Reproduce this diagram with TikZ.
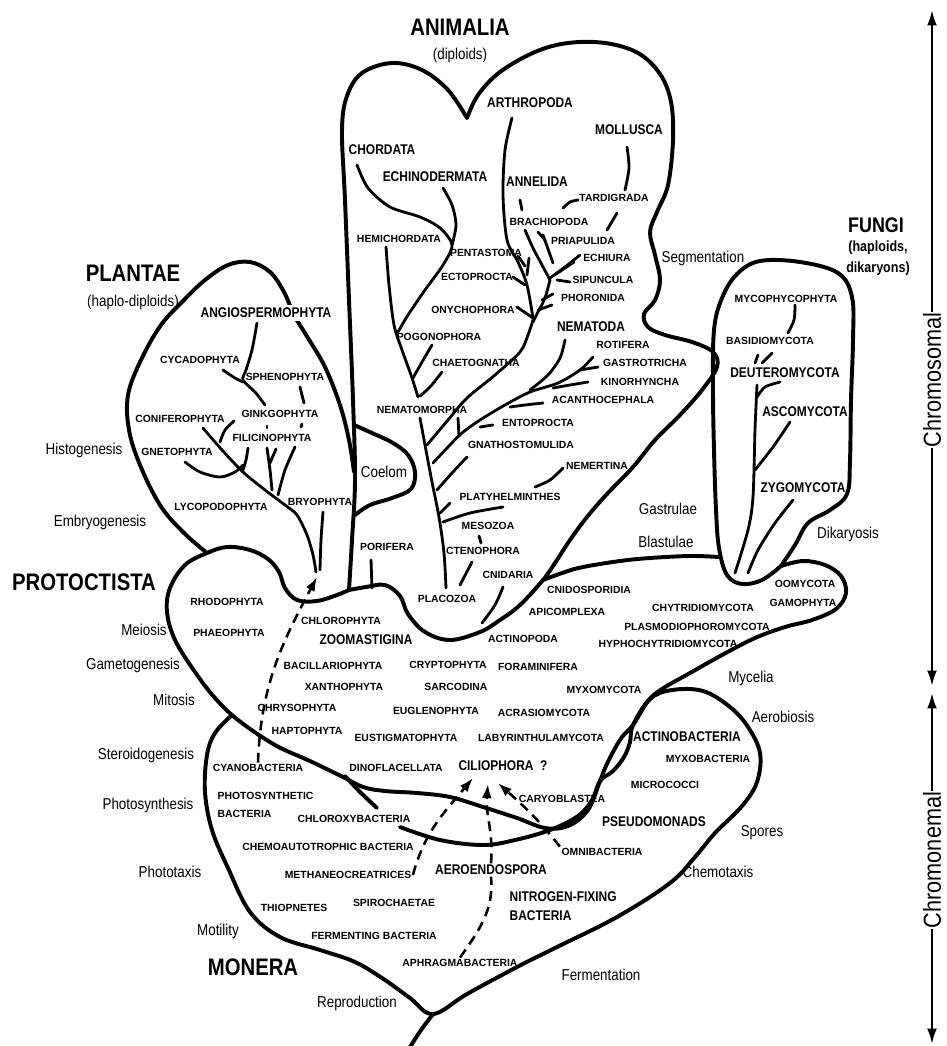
\documentclass[tikz,border=0pt]{standalone}
\usepackage{fontspec}
\setmainfont{Liberation Sans}
\newfontfamily\narrowf[FakeStretch=0.85]{Liberation Sans}
\newfontfamily\axisf[FakeStretch=0.88]{Liberation Sans}
\usetikzlibrary{arrows.meta}

\begin{document}
\begin{tikzpicture}[x=0.025cm, y=-0.025cm,
        taxon/.style={font=\fontsize{7.4}{12.8}\selectfont\bfseries, inner sep=1pt},
        phylum/.style={font=\narrowf\fontsize{10}{13.5}\selectfont\bfseries, inner sep=1pt},
        kingdom/.style={font=\narrowf\fontsize{17}{18}\selectfont\bfseries, inner sep=1pt},
        trait/.style={font=\narrowf\fontsize{11.2}{12}\selectfont, inner sep=1pt},
        axislabel/.style={font=\axisf\fontsize{17.5}{19}\selectfont, rotate=90, inner sep=0.3pt},
        rim/.style={line width=2.8pt, line cap=round, line join=round},
        twig/.style={line width=2pt, line cap=round},
        descent/.style={line width=1.8pt, dash pattern=on 7pt off 4.5pt},
        lineage/.style={descent, -{Latex[length=10pt, width=7pt]}},
        scale axis/.style={line width=1.6pt, -{Latex[length=11pt, width=7pt]}}]
        % Five kingdoms and their phyla
        \useasboundingbox (0,0) rectangle (947,1046);

        % outlines
        \draw[rim] plot[smooth, tension=0.6] coordinates {(349,590) (352,540) (355,480) (353,400) (349,300) (345,200) (342,130) (347,96) (362,73) (392,63) (422,70) (448,90) (467,118)};
        \draw[rim] plot[smooth, tension=0.6] coordinates {(467,118) (478,95) (500,72) (535,52) (568,43) (605,43) (638,53) (660,74) (671,102) (673,140) (668,185) (657,212) (650,232) (655,255) (660,280) (655,300) (644,314) (648,327) (665,335) (692,342) (713,352) (717,367) (702,390) (680,415) (655,440) (633,467) (607,494) (587,517) (570,540) (555,563) (543,580) (520,605) (500,620) (480,632) (450,640) (425,632) (408,614) (400,596) (385,585) (366,587) (349,590)};
        \draw[rim] plot[smooth, tension=0.6] coordinates {(354,425) (372,433) (393,443) (408,455) (415,472) (411,489) (392,498) (370,505) (355,515)};
        \draw[rim] plot[smooth, tension=0.6] coordinates {(354,472) (349,440) (340,405) (325,367) (308,338) (294,315) (284,292) (270,272) (250,262) (228,265) (205,280) (184,300) (161,325) (141,360) (128,395) (129,430) (140,465) (160,505) (183,532) (207,553)};
        \draw[rim] plot[smooth, tension=0.6] coordinates {(349,590) (337,595) (317,601) (297,600) (285,588) (279,572) (268,559) (250,550) (227,547) (207,553) (185,565) (170,588) (167,612) (175,640) (195,672) (215,698) (238,720) (275,745) (310,761) (343,777) (363,787) (385,791) (417,793) (450,797) (483,807) (517,818) (545,828) (568,826) (588,810) (600,781) (606,766) (613,752) (622,737) (633,725) (648,701) (662,689) (690,673) (722,655) (755,638) (785,627) (812,620) (836,609) (846,593) (841,576) (825,565) (803,561) (781,566)};
        \draw[rim] plot[smooth, tension=0.6] coordinates {(543,580) (565,572) (583,567) (620,561) (650,558) (690,556) (719,557)};
        \draw[rim] plot[smooth, tension=0.6] coordinates {(781,566) (795,545) (808,523) (830,510) (847,494) (850,460) (851,400) (853,340) (852,297) (838,273) (800,262) (760,261) (737,274) (722,298) (714,330) (713,390) (714,450) (716,510) (719,548) (727,575) (742,584) (762,580) (781,566)};
        \draw[rim] plot[smooth, tension=0.6] coordinates {(232,715) (215,733) (207,755) (205,792) (212,830) (228,868) (250,912) (280,937) (320,950) (355,962) (385,980) (410,998) (433,1014) (467,994) (517,967) (555,948) (617,917) (670,883) (695,857) (715,833) (742,806) (757,782) (760,753) (748,727) (730,707) (703,691) (672,690) (650,699) (633,725) (630,742) (624,757) (613,771) (600,781) (592,800) (578,816) (550,830) (515,840) (483,845) (440,840) (400,827)};
        \draw[rim] plot[smooth] coordinates {(433,1014) (421,1030) (410,1047)};
        \draw[rim] plot[smooth] coordinates {(345,776) (360,792) (377,808)};

        \node[kingdom] (animalia) at (460,27) {ANIMALIA};
        \node[trait] (diploids) at (460,55) {(diploids)};
        \node[kingdom] (plantae) at (133,273) {PLANTAE};
        \node[trait] (haplodiploids) at (133,302) {(haplo-diploids)};
        \node[kingdom, font=\narrowf\fontsize{15}{16}\selectfont\bfseries] (fungi) at (876,225) {FUNGI};
        \node[trait, align=center, font=\narrowf\fontsize{10.5}{14.9}\selectfont\bfseries] (haploids) at (878,258) {(haploids,\\dikaryons)};
        \node[kingdom] (protoctista) at (84,582) {PROTOCTISTA};
        \node[kingdom] (monera) at (253,967) {MONERA};

        \node[trait] (histogenesis) at (84,450) {Histogenesis};
        \node[trait] (embryogenesis) at (100,522) {Embryogenesis};
        \node[trait] (meiosis) at (144,630) {Meiosis};
        \node[trait] (gametogenesis) at (133,665) {Gametogenesis};
        \node[trait] (mitosis) at (174,700) {Mitosis};
        \node[trait] (steroidogenesis) at (146,755) {Steroidogenesis};
        \node[trait] (photosynthesis) at (148,805) {Photosynthesis};
        \node[trait] (phototaxis) at (170,872) {Phototaxis};
        \node[trait] (motility) at (218,931) {Motility};
        \node[trait] (reproduction) at (357,1003) {Reproduction};
        \node[trait] (fermentation) at (601,975) {Fermentation};
        \node[trait] (chemotaxis) at (718,872) {Chemotaxis};
        \node[trait] (spores) at (762,833) {Spores};
        \node[trait] (aerobiosis) at (783,717) {Aerobiosis};
        \node[trait] (mycelia) at (751,678) {Mycelia};
        \node[trait] (dikaryosis) at (848,534) {Dikaryosis};
        \node[trait] (gastrulae) at (668,509) {Gastrulae};
        \node[trait] (blastulae) at (666,542) {Blastulae};
        \node[trait] (segmentation) at (703,258) {Segmentation};
        \node[trait] (coelom) at (384,472) {Coelom};

        \node[phylum] (arthropoda) at (530,103) {ARTHROPODA};
        \node[phylum] (mollusca) at (629,130) {MOLLUSCA};
        \node[phylum] (chordata) at (382,150) {CHORDATA};
        \node[phylum] (echinodermata) at (435,177) {ECHINODERMATA};
        \node[phylum] (annelida) at (537,182) {ANNELIDA};
        \node[phylum] (nematoda) at (591,327) {NEMATODA};
        \node[taxon] (tardigrada) at (614,198) {TARDIGRADA};
        \node[taxon] (brachiopoda) at (549,222) {BRACHIOPODA};
        \node[taxon] (priapulida) at (583,241) {PRIAPULIDA};
        \node[taxon] (hemichordata) at (399,239) {HEMICHORDATA};
        \node[taxon] (pentastoma) at (486,253) {PENTASTOMA};
        \node[taxon] (echiura) at (607,258) {ECHIURA};
        \node[taxon] (ectoprocta) at (477,277) {ECTOPROCTA};
        \node[taxon] (sipuncula) at (603,280) {SIPUNCULA};
        \node[taxon] (phoronida) at (593,298) {PHORONIDA};
        \node[taxon] (onychophora) at (473,310) {ONYCHOPHORA};
        \node[taxon] (pogonophora) at (439,337) {POGONOPHORA};
        \node[taxon] (rotifera) at (623,345) {ROTIFERA};
        \node[taxon] (chaetognatha) at (476,363) {CHAETOGNATHA};
        \node[taxon] (gastrotricha) at (645,363) {GASTROTRICHA};
        \node[taxon] (kinorhyncha) at (640,382) {KINORHYNCHA};
        \node[taxon] (acanthocephala) at (603,400) {ACANTHOCEPHALA};
        \node[taxon] (nematomorpha) at (422,410) {NEMATOMORPHA};
        \node[taxon] (entoprocta) at (538,423) {ENTOPROCTA};
        \node[taxon] (gnathostomulida) at (521,445) {GNATHOSTOMULIDA};
        \node[taxon] (nemertina) at (597,466) {NEMERTINA};
        \node[taxon] (platyhelminthes) at (510,497) {PLATYHELMINTHES};
        \node[taxon] (mesozoa) at (488,526) {MESOZOA};
        \node[taxon] (porifera) at (387,547) {PORIFERA};
        \node[taxon] (ctenophora) at (483,551) {CTENOPHORA};
        \node[taxon] (cnidaria) at (508,575) {CNIDARIA};
        \node[taxon] (placozoa) at (447,599) {PLACOZOA};

        \node[phylum, fill=white, inner sep=2pt] (angiospermophyta) at (266,313) {ANGIOSPERMOPHYTA};
        \node[taxon] (cycadophyta) at (200,360) {CYCADOPHYTA};
        \node[taxon] (sphenophyta) at (285,377) {SPHENOPHYTA};
        \node[taxon] (coniferophyta) at (180,419) {CONIFEROPHYTA};
        \node[taxon] (ginkgophyta) at (280,414) {GINKGOPHYTA};
        \node[taxon] (filicinophyta) at (272,438) {FILICINOPHYTA};
        \node[taxon] (gnetophyta) at (177,452) {GNETOPHYTA};
        \node[taxon] (lycopodophyta) at (221,507) {LYCOPODOPHYTA};
        \node[taxon] (bryophyta) at (320,502) {BRYOPHYTA};

        \node[taxon] (mycophycophyta) at (786,299) {MYCOPHYCOPHYTA};
        \node[taxon] (basidiomycota) at (770,341) {BASIDIOMYCOTA};
        \node[phylum] (deuteromycota) at (785,373) {DEUTEROMYCOTA};
        \node[phylum] (ascomycota) at (805,412) {ASCOMYCOTA};
        \node[phylum] (zygomycota) at (803,488) {ZYGOMYCOTA};
        \node[taxon] (oomycota) at (805,584) {OOMYCOTA};
        \node[taxon] (gamophyta) at (803,603) {GAMOPHYTA};

        \node[taxon] (rhodophyta) at (227,602) {RHODOPHYTA};
        \node[taxon] (phaeophyta) at (229,633) {PHAEOPHYTA};
        \node[taxon] (chlorophyta) at (341,621) {CHLOROPHYTA};
        \node[phylum] (zoomastigina) at (366,640) {ZOOMASTIGINA};
        \node[taxon] (actinopoda) at (523,639) {ACTINOPODA};
        \node[taxon] (cnidosporidia) at (589,590) {CNIDOSPORIDIA};
        \node[taxon] (apicomplexa) at (567,612) {APICOMPLEXA};
        \node[taxon] (chytridiomycota) at (703,608) {CHYTRIDIOMYCOTA};
        \node[taxon] (plasmodiophoromycota) at (697,627) {PLASMODIOPHOROMYCOTA};
        \node[taxon] (hyphochytridiomycota) at (668,644) {HYPHOCHYTRIDIOMYCOTA};
        \node[taxon] (bacillariophyta) at (333,666) {BACILLARIOPHYTA};
        \node[taxon] (cryptophyta) at (448,665) {CRYPTOPHYTA};
        \node[taxon] (foraminifera) at (538,667) {FORAMINIFERA};
        \node[taxon] (xanthophyta) at (344,687) {XANTHOPHYTA};
        \node[taxon] (sarcodina) at (456,687) {SARCODINA};
        \node[taxon] (myxomycota) at (604,690) {MYXOMYCOTA};
        \node[taxon] (chrysophyta) at (297,708) {CHRYSOPHYTA};
        \node[taxon] (euglenophyta) at (436,711) {EUGLENOPHYTA};
        \node[taxon] (acrasiomycota) at (544,713) {ACRASIOMYCOTA};
        \node[taxon] (haptophyta) at (307,731) {HAPTOPHYTA};
        \node[taxon] (eustigmatophyta) at (406,738) {EUSTIGMATOPHYTA};
        \node[taxon] (labyrinthulamycota) at (541,738) {LABYRINTHULAMYCOTA};
        \node[taxon] (dinoflacellata) at (396,768) {DINOFLACELLATA};
        \node[phylum] (ciliophora) at (503,766) {CILIOPHORA\ \ ?};

        \node[phylum] (actinobacteria) at (687,737) {ACTINOBACTERIA};
        \node[taxon] (myxobacteria) at (708,759) {MYXOBACTERIA};
        \node[taxon] (micrococci) at (665,785) {MICROCOCCI};
        \node[taxon] (cyanobacteria) at (258,768) {CYANOBACTERIA};
        \node[taxon, align=left, anchor=west] (photosynthetic) at (216,805) {PHOTOSYNTHETIC\\BACTERIA};
        \node[taxon] (chloroxybacteria) at (354,819) {CHLOROXYBACTERIA};
        \node[taxon] (caryoblastea) at (562,799) {CARYOBLASTEA};
        \node[phylum] (pseudomonads) at (654,822) {PSEUDOMONADS};
        \node[taxon] (chemoautotrophic) at (328,847) {CHEMOAUTOTROPHIC BACTERIA};
        \node[taxon] (omnibacteria) at (602,852) {OMNIBACTERIA};
        \node[taxon] (methaneocreatrices) at (348,875) {METHANEOCREATRICES};
        \node[phylum] (aeroendospora) at (491,870) {AEROENDOSPORA};
        \node[phylum, align=left, anchor=west] (nitrogenfixing) at (508,906) {NITROGEN-FIXING\\BACTERIA};
        \node[taxon] (thiopnetes) at (294,908) {THIOPNETES};
        \node[taxon] (spirochaetae) at (394,903) {SPIROCHAETAE};
        \node[taxon] (fermenting) at (374,936) {FERMENTING BACTERIA};
        \node[taxon] (aphragmabacteria) at (460,963) {APHRAGMABACTERIA};

        \node[axislabel] (chromosomal) at (932,380) {Chromosomal};
        \node[axislabel] (chromonemal) at (932,860) {Chromonemal};
        \coordinate (axtop) at (932,10);
        \coordinate (axmidup) at (932,686);
        \coordinate (axmiddown) at (932,693);
        \coordinate (axbottom) at (932,1044);
        \coordinate (plantroot) at (317,577);
        \coordinate (ciltipA) at (473,778);
        \coordinate (ciltipB) at (488,784);
        \coordinate (ciltipC) at (498,783);

        % animal branches
        \draw[twig] plot[smooth] coordinates {(357,165) (368,188) (390,207) (420,217) (440,228) (452,245) (443,265) (425,290) (408,315) (398,332)};
        \draw[twig] plot[smooth] coordinates {(443,188) (452,205) (456,225) (452,245)};
        \draw[twig] plot[smooth] coordinates {(386,247) (389,285) (394,325) (402,350) (411,375) (418,397)};
        \draw[twig] plot[smooth] coordinates {(432,345) (422,362) (413,378)};
        \draw[twig] plot[smooth] coordinates {(442,372) (430,387) (420,396)};
        \draw[twig] plot[smooth] coordinates {(420,418) (425,445) (432,482) (439,517) (444,553) (446,588)};
        \draw[twig] plot[smooth] coordinates {(512,118) (505,150) (503,195) (507,240) (518,262) (527,285) (533,318)};
        \draw[twig] (518,256) -- (525,266);
        \draw[twig] (529,258) -- (527,275);
        \draw[twig] (513,277) -- (525,285);
        \draw[twig] (517,307) -- (533,318);
        \draw[twig] plot[smooth] coordinates {(525,230) (533,248) (542,265) (550,280)};
        \draw[twig] (520,200) -- (522,210);
        \draw[twig] (538,232) -- (545,240);
        \draw[twig] (543,235) -- (553,263);
        \draw[twig] plot[smooth] coordinates {(563,208) (570,202) (578,200)};
        \draw[twig] plot[smooth] coordinates {(627,147) (629,168) (625,190)};
        \draw[twig] (617,213) -- (607,230);
        \draw[twig] plot[smooth] coordinates {(580,255) (565,267) (550,278)};
        \draw[twig] (574,262) -- (556,274);
        \draw[twig] (557,280) -- (570,282);
        \draw[twig] (542,300) -- (553,294);
        \draw[twig] (538,310) -- (552,305);
        \draw[twig] plot[smooth] coordinates {(550,280) (545,298) (538,312) (533,322)};
        \draw[twig] plot[smooth] coordinates {(533,320) (528,335) (520,352) (495,375) (467,398) (448,420) (427,445)};
        \draw[twig] plot[smooth] coordinates {(565,340) (560,358) (548,375) (530,390)};
        \draw[twig] plot[smooth] coordinates {(593,357) (580,370) (558,383) (530,392) (505,405) (480,420) (462,433) (448,447) (433,463)};
        \draw[twig] (598,367) -- (580,370);
        \draw[twig] plot[smooth] coordinates {(588,382) (570,385) (553,388)};
        \draw[twig] plot[smooth] coordinates {(543,403) (525,405) (510,407)};
        \draw[twig] (493,425) -- (480,427);
        \draw[twig] (458,418) -- (459,436);
        \draw[twig] plot[smooth] coordinates {(467,457) (452,473) (437,490)};
        \draw[twig] plot[smooth] coordinates {(563,468) (550,480) (535,487)};
        \draw[twig] plot[smooth] coordinates {(503,507) (470,513) (443,522)};
        \draw[twig] (450,503) -- (440,513);
        \draw[twig] (479,536) -- (481,543);
        \draw[twig] (472,562) -- (460,585);
        \draw[twig] plot[smooth] coordinates {(503,587) (495,605) (482,623)};
        \draw[twig] (371,560) -- (372,588);

        % plant branches
        \draw[twig] plot[smooth] coordinates {(257,323) (252,350) (246,370) (243,380) (255,392) (265,405)};
        \draw[twig] plot[smooth] coordinates {(223,370) (235,378) (243,382)};
        \draw[twig] (300,387) -- (304,403);
        \draw[twig] plot[smooth] coordinates {(203,428) (222,450) (243,472) (265,490) (285,505) (297,515) (307,535) (313,555) (316,572)};
        \draw[twig] plot[smooth] coordinates {(234,421) (225,430) (220,442)};
        \draw[twig] (267,426) -- (267,428);
        \draw[twig] (302,424) -- (301,427);
        \draw[twig] plot[smooth] coordinates {(248,448) (246,460) (243,470)};
        \draw[twig] plot[smooth] coordinates {(267,448) (270,470) (272,490)};
        \draw[twig] (276,449) -- (270,463);
        \draw[twig] plot[smooth] coordinates {(295,447) (285,470) (278,495)};
        \draw[twig] plot[smooth] coordinates {(185,462) (200,472) (220,477) (235,472) (243,465)};
        \draw[twig] plot[smooth] coordinates {(323,512) (321,540) (320,570)};

        % fungal branches
        \draw[twig] plot[smooth] coordinates {(795,305) (794,320) (788,333)};
        \draw[twig] (758,355) -- (755,363);
        \draw[twig] (772,353) -- (762,363);
        \draw[twig] plot[smooth] coordinates {(757,385) (755,430) (753,497) (748,530) (735,573)};
        \draw[twig] plot[smooth] coordinates {(780,382) (765,387) (757,397)};
        \draw[twig] plot[smooth] coordinates {(790,422) (773,447) (755,470)};
        \draw[twig] plot[smooth] coordinates {(793,500) (775,523) (758,550) (748,573)};

        % descent arrows
        \draw[lineage] (cyanobacteria.north) to[out=88, in=-118] (plantroot);
        \draw[lineage] (methaneocreatrices.east) to[out=75, in=-130] (ciltipA);
        \draw[descent] (aphragmabacteria.north) to[out=55, in=-85] (aeroendospora.south);
        \draw[lineage] (aeroendospora.north) to[out=85, in=-95] (ciltipB);
        \draw[lineage] (omnibacteria.north west) to[out=128, in=-42] (ciltipC);

        \draw[scale axis] (chromosomal) -- (axtop);
        \draw[scale axis] (chromosomal) -- (axmidup);
        \draw[scale axis] (chromonemal) -- (axmiddown);
        \draw[scale axis] (chromonemal) -- (axbottom);
\end{tikzpicture}
\end{document}
